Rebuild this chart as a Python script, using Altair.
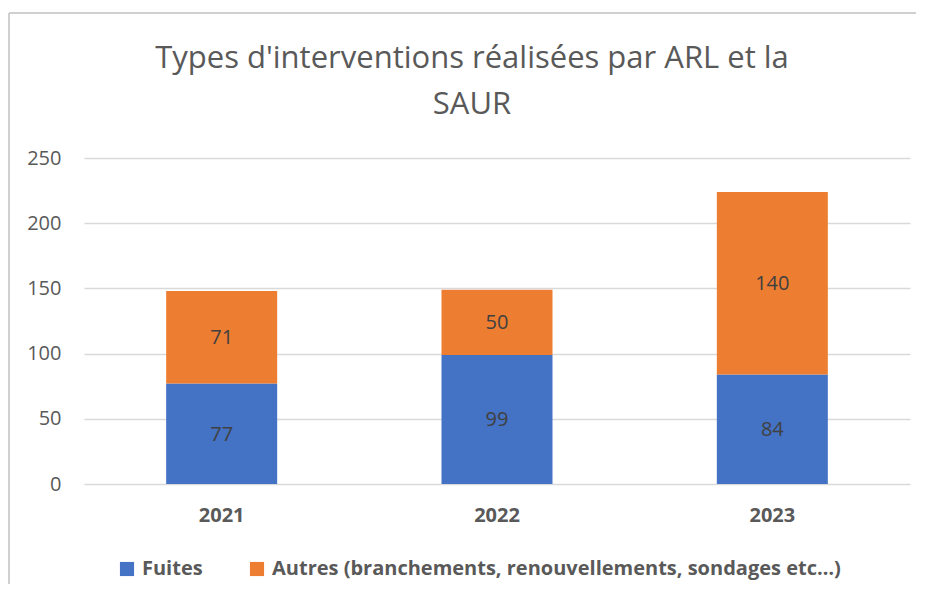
import altair as alt
import pandas as pd

years = ["2021", "2022", "2023"]
fuites = [77, 99, 84]
autres = [71, 50, 140]
series = ["Fuites", "Autres (branchements, renouvellements, sondages etc…)"]
colors = ["#4472C4", "#ED7D31"]

rows = []
for i, y in enumerate(years):
    rows.append({"annee": y, "type": series[0], "val": fuites[i], "ord": 0})
    rows.append({"annee": y, "type": series[1], "val": autres[i], "ord": 1})
df = pd.DataFrame(rows)

FONT = "Open Sans"
GREY = "#595959"

base = alt.Chart(df)

bars = base.mark_bar(size=111).encode(
    x=alt.X("annee:N", title=None,
            scale=alt.Scale(paddingInner=0.6, paddingOuter=0.3),
            axis=alt.Axis(labelAngle=0, labelFont=FONT, labelFontSize=20,
                          labelFontWeight="bold", labelColor=GREY,
                          labelPadding=21, ticks=False, domain=False, grid=False)),
    y=alt.Y("val:Q", stack="zero", title=None,
            scale=alt.Scale(domain=[0, 250], nice=False),
            axis=alt.Axis(values=[0, 50, 100, 150, 200, 250], labelFont=FONT,
                          labelFontSize=20, labelColor=GREY, labelPadding=23,
                          ticks=False, domain=False, gridColor="#D9D9D9",
                          gridWidth=1.3)),
    color=alt.Color("type:N", scale=alt.Scale(domain=series, range=colors),
                    legend=alt.Legend(title=None, orient="none", direction="horizontal",
                                      legendX=33, legendY=401, symbolType="square",
                                      symbolSize=200, symbolStrokeWidth=0,
                                      labelFont=FONT, labelFontSize=20,
                                      labelFontWeight="bold", labelColor=GREY,
                                      labelLimit=800,
                                      columnPadding=44, labelOffset=5)),
    order=alt.Order("ord:Q"),
)

labels = base.mark_text(font=FONT, fontSize=20, color="#404040", dy=1).encode(
    x=alt.X("annee:N"),
    y=alt.Y("mid:Q"),
    text=alt.Text("val:Q"),
).transform_stack(
    stack="val", groupby=["annee"], as_=["v0", "v1"], sort=[alt.SortField("ord")]
).transform_calculate(mid="(datum.v0 + datum.v1) / 2")

frame_left = alt.Chart(pd.DataFrame({"a": [0]})).mark_rule(color="#D0D0D0", strokeWidth=2).encode(
    x=alt.value(-75), y=alt.value(-145), y2=alt.value(440))
frame_top = alt.Chart(pd.DataFrame({"a": [0]})).mark_rule(color="#D0D0D0", strokeWidth=2).encode(
    x=alt.value(-75), x2=alt.value(834), y=alt.value(-145))

chart = alt.layer(bars, labels, frame_left, frame_top).properties(
    width=826, height=326,
    title=alt.TitleParams(
        text=["Types d'interventions réalisées par ARL et la", "SAUR"],
        font=FONT, fontSize=31, fontWeight="normal", color=GREY,
        lineHeight=46, offset=-109, anchor="middle", dx=-25, frame="group"),
    autosize=alt.AutoSizeParams(type="none"),
    padding={"left": 76, "top": 150, "right": 6, "bottom": 100},
).configure_view(stroke=None)

chart.save("out.html", embed_options={"renderer": "svg", "actions": False})
